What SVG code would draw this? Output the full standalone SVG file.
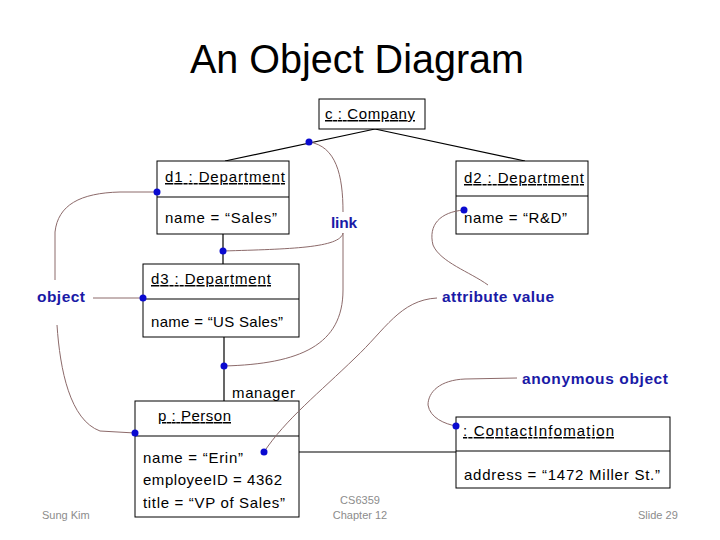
<svg xmlns="http://www.w3.org/2000/svg" width="720" height="540" viewBox="0 0 720 540">
<style>
.box{fill:#fff;stroke:#000;stroke-width:1}
.ln{fill:none;stroke:#000;stroke-width:1.2}
.cv{fill:none;stroke:#8c6a6a;stroke-width:1}
.dot{fill:#0a0ad0}
.t{font-family:"Liberation Sans",Arial,sans-serif;font-size:15px;fill:#000}
.u{text-decoration:underline}
.lbl{font-family:"Liberation Sans",Arial,sans-serif;font-size:15.5px;font-weight:bold;fill:#1a1aa6}
.ft{font-family:"Liberation Sans",Arial,sans-serif;font-size:11px;fill:#8c8c8c}
</style>
<rect width="720" height="540" fill="#fff"/>
<text x="190" y="73" font-family="Liberation Sans, Arial, sans-serif" font-size="41" textLength="334" lengthAdjust="spacingAndGlyphs">An Object Diagram</text>

<g id="connectors">
<path class="ln" d="M375,129 L225,161"/>
<path class="ln" d="M375,129 L525,161"/>
<path class="ln" d="M223,234 L223,264"/>
<path class="ln" d="M224,337 L224,401"/>
<path class="ln" d="M299,452 L456,452"/>
</g>

<g id="c-company">
<rect class="box" x="319" y="99" width="106" height="30"/>
<text class="t u" x="325" y="119" textLength="90">c : Company</text>
</g>

<g id="d1">
<rect class="box" x="157" y="161" width="132" height="73"/>
<line class="ln" x1="157" y1="197" x2="289" y2="197"/>
<text class="t u" x="165" y="182" textLength="120">d1 : Department</text>
<text class="t" x="165" y="223" textLength="112">name = “Sales”</text>
</g>

<g id="d2">
<rect class="box" x="456" y="161" width="132" height="73"/>
<line class="ln" x1="456" y1="196" x2="588" y2="196"/>
<text class="t u" x="464" y="183" textLength="120">d2 : Department</text>
<text class="t" x="464" y="223" textLength="103">name = “R&amp;D”</text>
</g>

<g id="d3">
<rect class="box" x="143" y="264" width="156" height="73"/>
<line class="ln" x1="143" y1="299" x2="299" y2="299"/>
<text class="t u" x="151" y="284" textLength="120">d3 : Department</text>
<text class="t" x="151" y="327" textLength="132">name = “US Sales”</text>
</g>

<g id="p-person">
<rect class="box" x="135" y="401" width="164" height="116"/>
<line class="ln" x1="135" y1="436" x2="299" y2="436"/>
<text class="t u" x="158" y="421" textLength="73">p : Person</text>
<text class="t" x="143" y="463" textLength="100">name = “Erin”</text>
<text class="t" x="143" y="485" textLength="139">employeeID = 4362</text>
<text class="t" x="143" y="508" textLength="142">title = “VP of Sales”</text>
</g>
<text class="t" x="232" y="398" textLength="63">manager</text>

<g id="contact">
<rect class="box" x="456" y="417" width="214" height="71"/>
<line class="ln" x1="456" y1="451" x2="670" y2="451"/>
<text class="t u" x="463" y="436" textLength="151">: ContactInfomation</text>
<text class="t" x="464" y="480" textLength="196">address = “1472 Miller St.”</text>
</g>

<g id="annotations">
<path class="cv" d="M309,142 C336,146 343,175 343,212"/>
<path class="cv" d="M343,233 C340,248 290,249 223,251"/>
<path class="cv" d="M343,233 L343,290 C343,345 300,364 224,366"/>
<path class="cv" d="M488,285 C470,272 440,262 433,245 C428,225 440,212 464,210"/>
<path class="cv" d="M437,298 C400,300 385,330 355,358 C320,392 285,420 264,452"/>
<path class="cv" d="M55,280 L55,232 C58,205 80,193 120,192 L157,192"/>
<path class="cv" d="M93,298 L143,298"/>
<path class="cv" d="M57,325 C60,370 70,420 100,431 L135,433"/>
<path class="cv" d="M517,378 L465,379 C440,380 428,392 428,405 C430,418 445,424 456,426"/>
<text class="lbl" x="331" y="228" textLength="26">link</text>
<text class="lbl" x="37" y="302" textLength="48">object</text>
<text class="lbl" x="442" y="302" textLength="112">attribute value</text>
<text class="lbl" x="522" y="384" textLength="146">anonymous object</text>
<circle class="dot" cx="309" cy="142" r="3.5"/>
<circle class="dot" cx="157" cy="192" r="3.5"/>
<circle class="dot" cx="223" cy="251" r="3.5"/>
<circle class="dot" cx="464" cy="210" r="3.5"/>
<circle class="dot" cx="143" cy="298" r="3.5"/>
<circle class="dot" cx="224" cy="366" r="3.5"/>
<circle class="dot" cx="135" cy="433" r="3.5"/>
<circle class="dot" cx="264" cy="452" r="3.5"/>
<circle class="dot" cx="456" cy="426" r="3.5"/>
</g>

<g id="footer">
<text class="ft" x="42" y="519">Sung Kim</text>
<text class="ft" x="360" y="504" text-anchor="middle">CS6359</text>
<text class="ft" x="360" y="519" text-anchor="middle">Chapter 12</text>
<text class="ft" x="638" y="519">Slide 29</text>
</g>
</svg>
